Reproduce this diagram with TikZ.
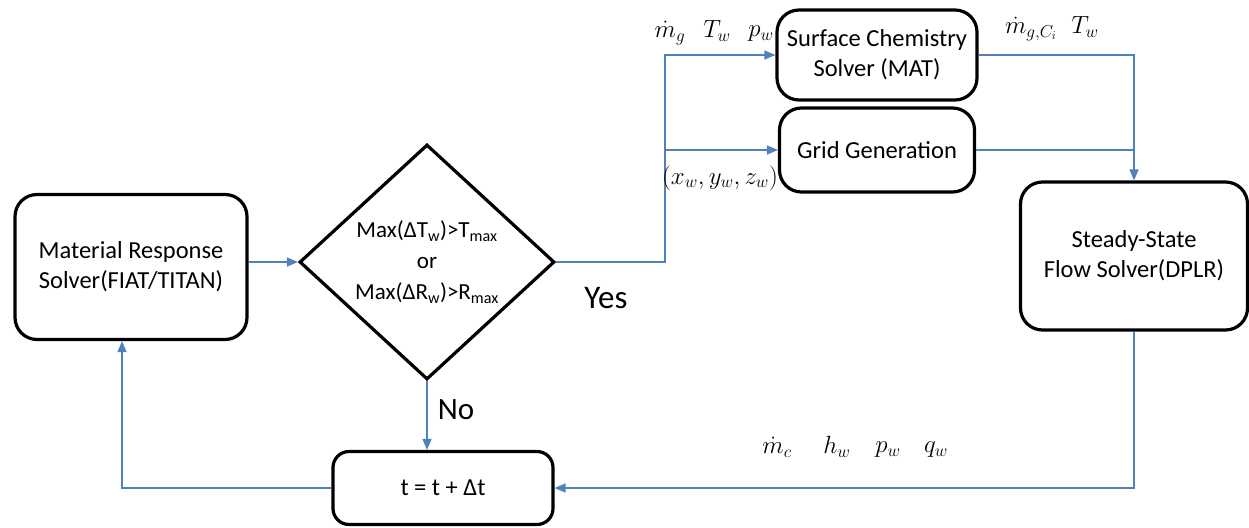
\documentclass[tikz,border=0pt]{standalone}
\usepackage{amsmath}
\usepackage{fontspec}
\setmainfont{Carlito}
\usepackage{tikz}
\usetikzlibrary{positioning,shapes.geometric,arrows.meta}

\definecolor{linkblue}{RGB}{79,129,189}

\begin{document}
\begin{tikzpicture}[x=1pt, y=-1pt,
    solver/.style={draw, line width=3.2pt, rounded corners=22pt, align=center,
      font=\fontsize{24.5}{30}\selectfont},
    flow/.style={draw=linkblue, line width=1.3pt, -{Triangle[length=11pt,width=9pt]}},
    link/.style={draw=linkblue, line width=1.3pt},
    var/.style={font=\fontsize{24}{28}\selectfont, inner sep=0pt}]
  \useasboundingbox (0,0) rectangle (1249,527);
  % --- nodes ---
  \node[solver, minimum width=232pt, minimum height=145pt] (mr) at (131,267)
    {Material Response\\Solver(FIAT/TITAN)};
  \node[draw, line width=3.2pt, diamond, minimum width=255pt, minimum height=235pt,
    inner sep=0pt, align=center, font=\fontsize{23}{31}\selectfont] (dia) at (427,262)
    {Max(ΔT\textsubscript{w})>T\textsubscript{max}\\or\\Max(ΔR\textsubscript{w})>R\textsubscript{max}};
  \node[solver, minimum width=200pt, minimum height=90pt] (scs) at (877,55)
    {Surface Chemistry\\Solver (MAT)};
  \node[solver, minimum width=195pt, minimum height=84pt] (grid) at (877,150)
    {Grid Generation};
  \node[solver, minimum width=227pt, minimum height=148pt] (dplr) at (1134,256)
    {Steady-State\\Flow Solver(DPLR)};
  \node[solver, minimum width=220pt, minimum height=73pt, rounded corners=16pt] (tstep) at (443,488)
    {t = t + Δt};
  % --- connectors ---
  \coordinate (split) at (665,150);
  \draw[flow] (dia.west -| mr.east) -- (dia.west);
  \draw[flow] (dia.east) -| (split) |- (scs.west);
  \draw[flow] (split) -- (grid.west);
  \draw[flow] (scs.east) -| (dplr.north);
  \draw[link] (grid.east) -- (grid.east -| dplr.north);
  \draw[flow] (dplr.south) |- (tstep.east);
  \draw[flow] (dia.south) -- (dia.south |- tstep.north);
  \draw[flow] (tstep.west) -| ([xshift=-9pt]mr.south);
  % --- labels ---
  \node[font=\fontsize{33}{36}\selectfont] (yes) at (606,298) {Yes};
  \node[font=\fontsize{31}{34}\selectfont] (no) at (456,410) {No};
  \node[var] (mg) at (670,33) {$\dot m_g$};
  \node[var] (tw1) at (717,31) {$T_w$};
  \node[var] (pw1) at (761,34) {$p_w$};
  \node[var] (mgc) at (1031,29) {$\dot m_{g,C_i}$};
  \node[var] (tw2) at (1085,27) {$T_w$};
  \node[var] (xyz) at (720,178) {$(x_w, y_w, z_w)$};
  \node[var] (mc) at (777,447) {$\dot m_c$};
  \node[var] (hw) at (837,447) {$h_w$};
  \node[var] (pw2) at (888,450) {$p_w$};
  \node[var] (qw) at (936,450) {$q_w$};
\end{tikzpicture}
\end{document}
